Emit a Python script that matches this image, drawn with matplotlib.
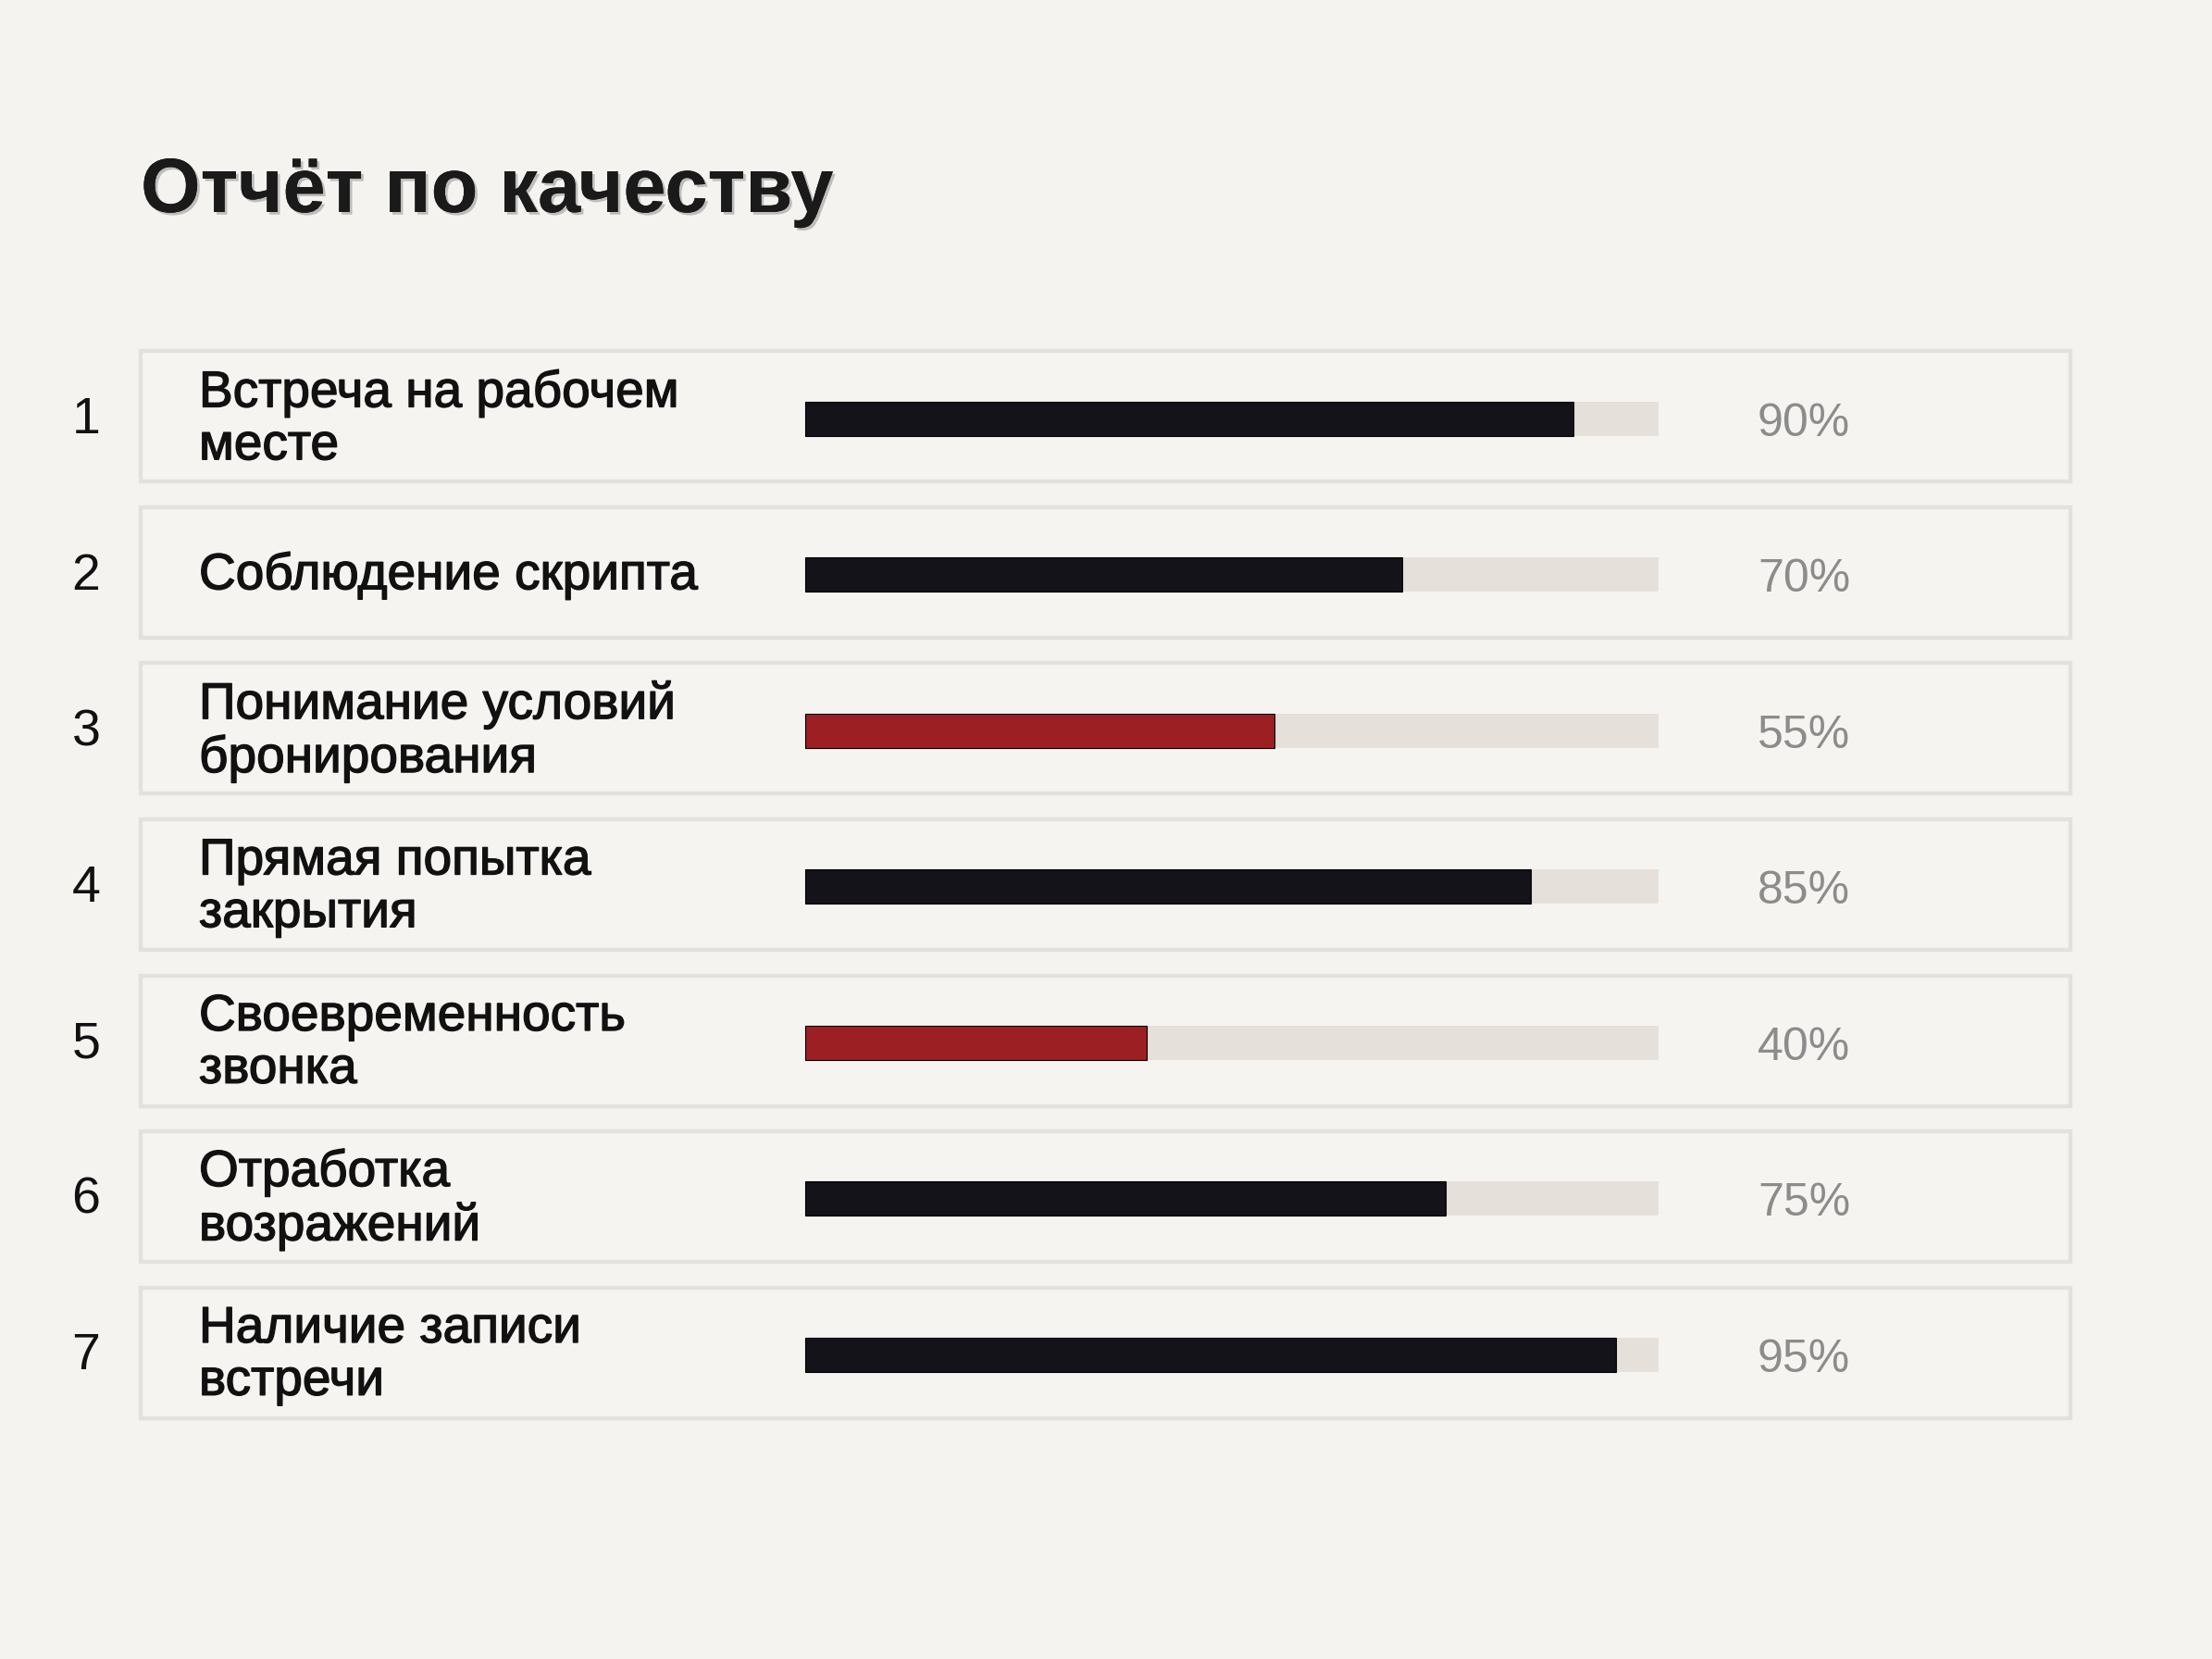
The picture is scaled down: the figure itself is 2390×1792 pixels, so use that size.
import matplotlib
matplotlib.use("Agg")
import matplotlib.pyplot as plt
from matplotlib.patches import Rectangle
import matplotlib.patheffects as pe

# data
ranks = [1, 2, 3, 4, 5, 6, 7]
criteria = [
    "Встреча на рабочем\nместе",
    "Соблюдение скрипта",
    "Понимание условий\nбронирования",
    "Прямая попытка\nзакрытия",
    "Своевременность\nзвонка",
    "Отработка\nвозражений",
    "Наличие записи\nвстречи",
]
scores = [90, 70, 55, 85, 40, 75, 95]
threshold = 60

BG = "#f5f3f0"
TRACK = "#e6e0db"
DARK = "#14131a"
RED = "#9b1f23"
BOX_EDGE = "#e4e1dd"
PCT = "#8c8c8c"

W, H, DPI = 2390, 1792, 200
fig = plt.figure(figsize=(W / DPI, H / DPI), dpi=DPI, facecolor=BG)
ax = fig.add_axes([0, 0, 1, 1])
ax.set_facecolor(BG)

# map pixels -> data: 0% at x=870px, 100% at x=1792px; row pitch 168.5px
px_per_pct = (1792 - 870) / 100
row_pitch = 168.5
ax.set_xlim(-870 / px_per_pct, (W - 870) / px_per_pct)
ax.set_ylim((H - 450) / row_pitch, -450 / row_pitch)
ax.axis("off")

plt.rcParams["font.family"] = ["Liberation Sans", "DejaVu Sans"]

box_left = (152 - 870) / px_per_pct
box_right = (2237 - 870) / px_per_pct
box_h = 141 / row_pitch

rows = list(range(len(scores)))
for i in rows:
    ax.add_patch(Rectangle((box_left, i - box_h / 2), box_right - box_left, box_h,
                           facecolor="#f6f4f1", edgecolor=BOX_EDGE, linewidth=1.6, zorder=1))

bar_h = 37 / row_pitch
bar_y = [i + 0.012 for i in rows]
ax.barh(bar_y, [100] * len(rows), height=bar_h, color=TRACK, zorder=2)
colors = [RED if s < threshold else DARK for s in scores]
ax.barh(bar_y, scores, height=bar_h, color=colors, edgecolor="#000000", linewidth=0.4, zorder=3)

num_x = (93 - 870) / px_per_pct
lab_x = (215 - 870) / px_per_pct
pct_x = (1949 - 870) / px_per_pct
for i, (r, lab, s) in enumerate(zip(ranks, criteria, scores)):
    ax.text(num_x, i + 0.025, str(r), ha="center", va="center", fontsize=20, color="#111111", zorder=4)
    ax.text(lab_x, i + 0.02, lab, ha="left", va="center", fontsize=19.8, color="#111111",
            linespacing=1.12, zorder=4,
            path_effects=[pe.withStroke(linewidth=0.5, foreground="#111111")])
    ax.text(pct_x, i + 0.045, f"{s}%", ha="center", va="center", fontsize=18, color=PCT, zorder=4)

fig.text(152 / W, 1 - 207 / H, "Отчёт по качеству", ha="left", va="center",
         fontsize=29.9, fontweight="bold", color="#1a1a1a",
         path_effects=[pe.withSimplePatchShadow(offset=(1, -1), shadow_rgbFace="#888888", alpha=0.5),
                       pe.Normal()])

fig.savefig("out.png", dpi=DPI, facecolor=BG)
